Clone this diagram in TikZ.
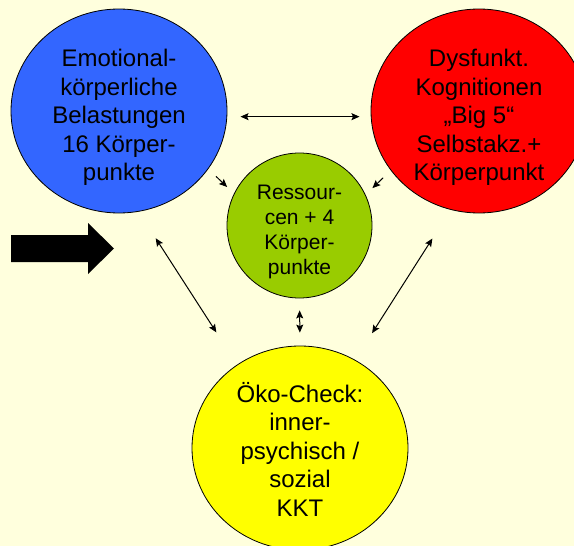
\documentclass[tikz,border=0pt]{standalone}
\usepackage{fontspec}
\setmainfont{Liberation Sans}
\usetikzlibrary{arrows.meta,shapes.geometric}
\definecolor{bgyellow}{HTML}{FFFFDD}
\definecolor{blobblue}{HTML}{3366FF}
\definecolor{blobred}{HTML}{FF0000}
\definecolor{blobgreen}{HTML}{99CC00}
\definecolor{blobyellow}{HTML}{FFFF00}
\tikzset{
  blob/.style={ellipse,draw=black,line width=0.8pt,minimum width=216pt,minimum height=204pt,inner sep=0pt},
  blobtext/.style={align=center,inner sep=0pt,font=\fontsize{24pt}{28.5pt}\selectfont},
  smalltext/.style={align=center,inner sep=0pt,font=\fontsize{21pt}{25pt}\selectfont},
  link/.style={line width=1pt,{Stealth[length=8pt,width=7pt,inset=1.5pt]}-{Stealth[length=8pt,width=7pt,inset=1.5pt]}},
  onelink/.style={line width=1pt,-{Stealth[length=8pt,width=7pt,inset=1.5pt]}}
}

\begin{document}
\begin{tikzpicture}[x=1pt,y=-1pt]
\useasboundingbox (0,0) rectangle (574,546);
\fill[bgyellow] (0,0) rectangle (574,546);
\clip (0,0) rectangle (574,546);
% the four circles
\node[blob,fill=blobblue] (emo) at (119,111) {};
\node[blob,fill=blobred] (dys) at (479,111) {};
\node[circle,draw=black,line width=0.8pt,minimum size=145pt,inner sep=0pt,fill=blobgreen] (res) at (299.5,225.5) {};
\node[blob,fill=blobyellow] (oko) at (300,448) {};
\node[blobtext] (emotext) at ([yshift=-6.75pt]emo.center) {Emotional-\\körperliche\\Belastungen\\16 Körper-\\punkte};
\node[blobtext] (dystext) at ([yshift=-6.75pt]dys.center) {Dysfunkt.\\Kognitionen\\„Big 5“\\Selbstakz.+\\Körperpunkt};
\node[smalltext] (restext) at ([yshift=-6.7pt]res.center) {Ressour-\\cen + 4\\Körper-\\punkte};
\node[blobtext] (okotext) at ([yshift=-1.2pt]oko.center) {Öko-Check:\\inner-\\psychisch /\\sozial\\KKT};
% connectors
\draw[link,shorten <=13.3pt,shorten >=11.3pt] (emo.-3.7) -- (dys.183.7);
\draw[onelink,shorten <=10.6pt,shorten >=9.5pt] (emo.-33.7) -- (res.154.6);
\draw[onelink,shorten <=10.6pt,shorten >=9.5pt] (dys.-146.3) -- (res.25.4);
\draw[link,shorten <=31.6pt,shorten >=38.4pt] (emo.-79.3) -- (oko.127.4);
\draw[link,shorten <=12pt,shorten >=13pt] (res.south) -- (oko.north);
\draw[link,shorten <=34pt,shorten >=31.6pt] (dys.-106.2) -- (oko.58.6);
% big arrow on the left
\fill[black] (11,235) -- (88,235) -- (88,223) -- (114,248.5) -- (88,274) -- (88,262) -- (11,262) -- cycle;
\end{tikzpicture}
\end{document}
